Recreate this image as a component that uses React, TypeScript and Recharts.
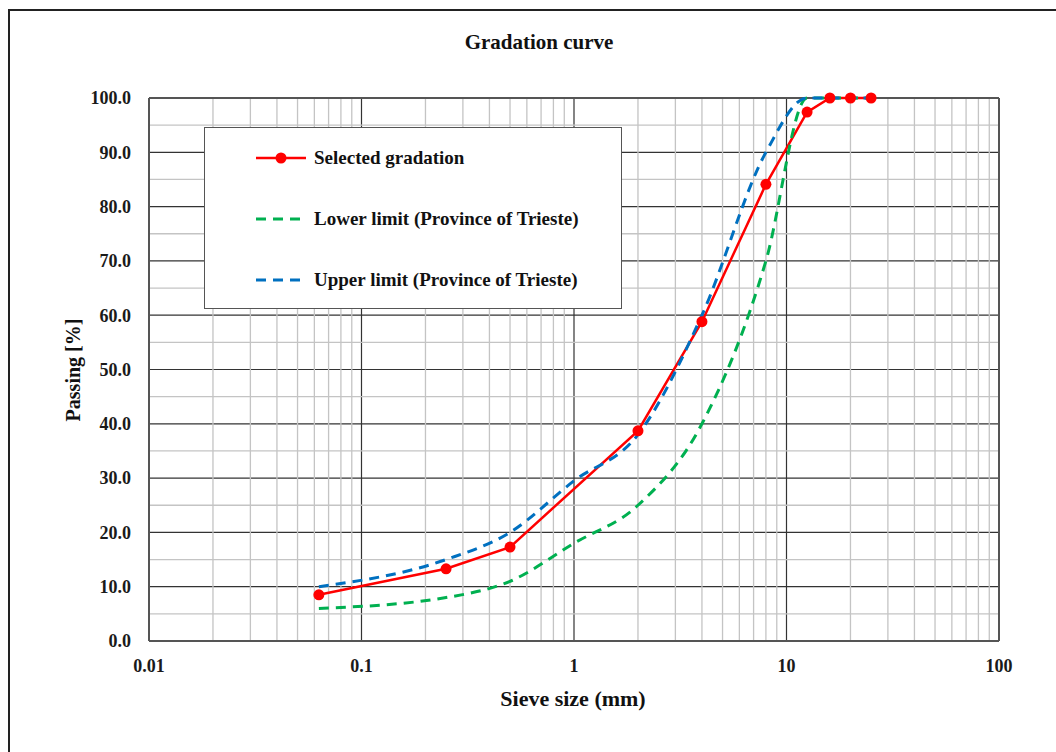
import React from "react";
import { ComposedChart, Line, XAxis, YAxis, CartesianGrid, ReferenceLine } from "recharts";

// sieve sizes (mm) and passing (%)
const sieveSelected = [0.063, 0.25, 0.5, 2, 4, 8, 12.5, 16, 20, 25];
const passingSelected = [8.5, 13.3, 17.3, 38.7, 58.8, 84.1, 97.4, 100, 100, 100];

const sieveLimits = [0.063, 0.25, 0.5, 1, 2, 4, 8, 12.5, 16, 20, 25];
const passingLower = [6, 8, 11, 18, 25, 40, 70, 100, 100, 100, 100];
const passingUpper = [10, 15, 20, 29.5, 38, 60, 90, 100, 100, 100, 100];

const xTicks = [0.01, 0.1, 1, 10, 100];
const xTickLabels = ["0.01", "0.1", "1", "10", "100"];
const yTicks = [0, 10, 20, 30, 40, 50, 60, 70, 80, 90, 100];
const yMinor = [5, 15, 25, 35, 45, 55, 65, 75, 85, 95];
const multipliers = [2, 3, 4, 5, 6, 7, 8, 9];
const xMinor = xTicks.slice(0, -1).flatMap((d) => multipliers.map((m) => +(d * m).toPrecision(3)));

const selected = sieveSelected.map((x, i) => ({ x, y: passingSelected[i] }));
const lower = sieveLimits.map((x, i) => ({ x, y: passingLower[i] }));
const upper = sieveLimits.map((x, i) => ({ x, y: passingUpper[i] }));

const RED = "#ff0000";
const GREEN = "#00b050";
const BLUE = "#0070c0";
const FONT = "'Liberation Serif', 'Times New Roman', serif";

const legendItems = [
  { label: "Selected gradation", color: RED, dash: undefined, dot: true },
  { label: "Lower limit (Province of Trieste)", color: GREEN, dash: "10 7", dot: false },
  { label: "Upper limit (Province of Trieste)", color: BLUE, dash: "10 7", dot: false },
];

export default function App() {
  const tickStyle = { fill: "#1a1a1a", fontSize: 18, fontWeight: 700, fontFamily: FONT };
  return (
    <div style={{ position: "relative", width: 1056, height: 752, overflow: "hidden", background: "#fff", fontFamily: FONT }}>
      <style>{"body{margin:0;overflow:hidden}"}</style>
      <div style={{ position: "absolute", left: 8, top: 9, width: 1200, height: 900, border: "2px solid #222" }} />

      <div style={{ position: "absolute", left: 0, width: 1078, top: 30, textAlign: "center", fontSize: 21, fontWeight: 700, color: "#111", lineHeight: "normal" }}>
        Gradation curve
      </div>
      <div style={{ position: "absolute", left: 0, width: 1146, top: 686, textAlign: "center", fontSize: 22, fontWeight: 700, color: "#111", lineHeight: "normal" }}>
        Sieve size (mm)
      </div>
      <div style={{ position: "absolute", left: 73, top: 370, transform: "translate(-50%, -50%) rotate(-90deg)", whiteSpace: "nowrap", fontSize: 20, fontWeight: 700, color: "#111" }}>
        Passing [%]
      </div>

      <div style={{ position: "absolute", left: 0, top: 0 }}>
        <ComposedChart width={1056} height={752} margin={{ top: 98, right: 57, bottom: 81, left: 0 }}>
          <CartesianGrid stroke="#333" strokeWidth={1.2} />
          {xMinor.map((v) => (
            <ReferenceLine key={"x" + v} x={v} stroke="#c4c4c4" strokeWidth={1.3} ifOverflow="hidden" />
          ))}
          {yMinor.map((v) => (
            <ReferenceLine key={"y" + v} y={v} stroke="#c4c4c4" strokeWidth={1.3} />
          ))}
          <ReferenceLine x={100} stroke="#555" strokeWidth={2} />
          <ReferenceLine y={100} stroke="#555" strokeWidth={2} />
          <XAxis
            type="number"
            dataKey="x"
            scale="log"
            domain={[0.01, 100]}
            ticks={xTicks}
            allowDataOverflow
            height={30}
            tickLine={false}
            tickSize={0}
            tickMargin={18}
            axisLine={{ stroke: "#555", strokeWidth: 2 }}
            tick={tickStyle}
            tickFormatter={(v) => xTickLabels[xTicks.indexOf(v)] ?? String(v)}
          />
          <YAxis
            type="number"
            dataKey="y"
            domain={[0, 100]}
            ticks={yTicks}
            width={149}
            tickLine={false}
            tickSize={0}
            tickMargin={18}
            axisLine={{ stroke: "#555", strokeWidth: 2 }}
            tick={tickStyle}
            tickFormatter={(v) => Number(v).toFixed(1)}
          />
          <Line data={selected} dataKey="y" type="linear" stroke={RED} strokeWidth={2.5} dot={false} isAnimationActive={false} />
          <Line data={lower} dataKey="y" type="monotone" stroke={GREEN} strokeWidth={3} strokeDasharray="10 7" dot={false} isAnimationActive={false} />
          <Line data={upper} dataKey="y" type="monotone" stroke={BLUE} strokeWidth={3} strokeDasharray="10 7" dot={false} isAnimationActive={false} />
          <Line
            data={selected}
            dataKey="y"
            stroke="none"
            dot={{ r: 5.5, fill: RED, stroke: RED, strokeWidth: 0 }}
            isAnimationActive={false}
          />
        </ComposedChart>
      </div>

      <div style={{ position: "absolute", left: 204, top: 127, width: 416, height: 180, border: "1.5px solid #555", background: "#fff" }}>
        {legendItems.map((item, i) => (
          <div key={item.label} style={{ position: "absolute", left: 50, top: 30 + i * 61 - 13, height: 26, display: "flex", alignItems: "center" }}>
            <svg width={52} height={14} style={{ marginRight: 7 }}>
              <line x1={1} y1={7} x2={51} y2={7} stroke={item.color} strokeWidth={item.dot ? 2.5 : 3} strokeDasharray={item.dash} />
              {item.dot && <circle cx={26} cy={7} r={5.5} fill={item.color} />}
            </svg>
            <span style={{ fontSize: 19, fontWeight: 700, color: "#111", whiteSpace: "nowrap" }}>{item.label}</span>
          </div>
        ))}
      </div>
    </div>
  );
}
